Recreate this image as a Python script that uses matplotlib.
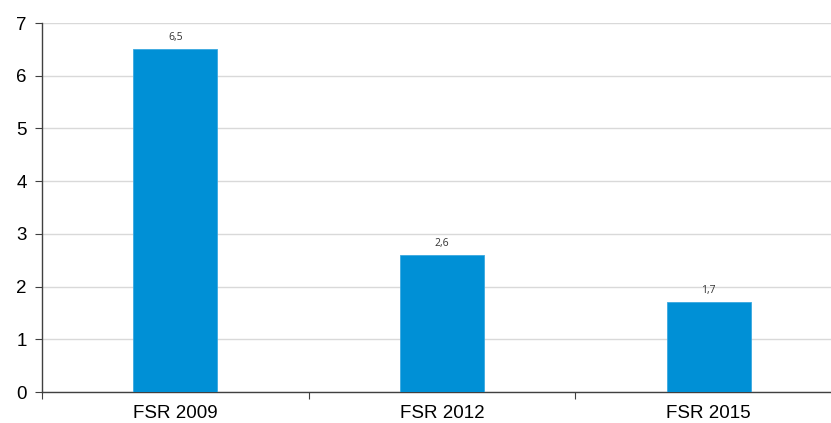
import matplotlib
matplotlib.use("Agg")
import matplotlib.pyplot as plt
import numpy as np

categories = ["FSR 2009", "FSR 2012", "FSR 2015"]
values = [6.5, 2.6, 1.7]
value_labels = ["6,5", "2,6", "1,7"]

plt.rcParams.update({"font.family": ["Liberation Sans", "DejaVu Sans"]})

W, H = 831, 423
fig = plt.figure(figsize=(W / 100, H / 100), dpi=100)
ax = fig.add_axes([42 / W, (H - 392) / H, (842 - 42) / W, (392 - 23) / H])

x = np.arange(len(categories))
ax.bar(x, values, width=0.316, color="#0090d6", edgecolor="#3aa8e0", linewidth=0.6, zorder=3)
for xi, v, lab in zip(x, values, value_labels):
    ax.annotate(lab, (xi, v), xytext=(0, 4.5), textcoords="offset points",
                ha="center", va="bottom", fontsize=7.5, color="#333333",
                family=["Open Sans", "DejaVu Sans"])

ax.set_xlim(-0.5, len(categories) - 0.5)
ax.set_ylim(0, 7)
ax.set_yticks(range(0, 8))
ax.tick_params(axis="y", labelsize=13.5, direction="out", length=5, color="#404040", pad=6)

# category labels centred, ticks at category boundaries
ax.set_xticks(np.arange(-0.5, len(categories) - 0.5, 1.0))
ax.set_xticklabels([])
ax.set_xticks(x, minor=True)
ax.set_xticklabels(categories, minor=True)
ax.tick_params(axis="x", which="major", direction="out", length=5, color="#404040")
ax.tick_params(axis="x", which="minor", length=0, labelsize=13.5, pad=9)

ax.yaxis.grid(True, color="#d9d9d9", linewidth=1.0, zorder=0)
ax.set_axisbelow(True)
for s in ["top", "right"]:
    ax.spines[s].set_visible(False)
for s in ["left", "bottom"]:
    ax.spines[s].set_color("#404040")
    ax.spines[s].set_linewidth(1.0)

plt.savefig("out.png", dpi=100)
